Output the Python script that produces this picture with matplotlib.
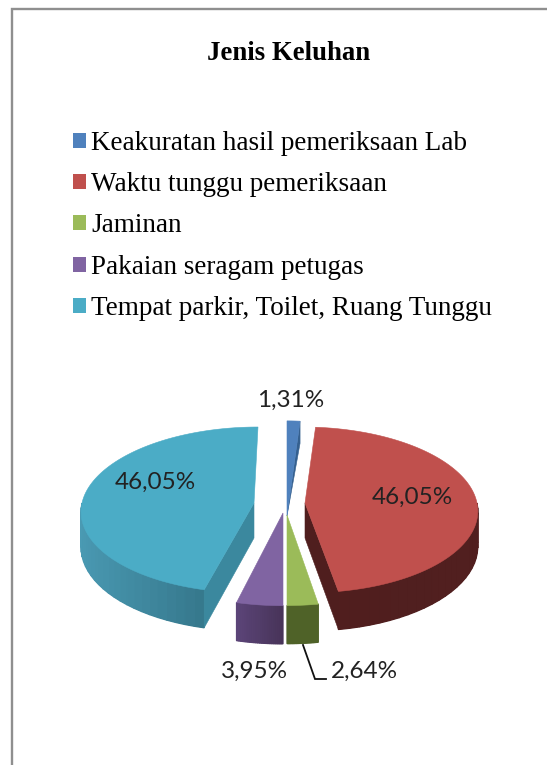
import numpy as np
import matplotlib
matplotlib.use("Agg")
import matplotlib.pyplot as plt
from matplotlib.patches import Patch, Polygon

title = "Jenis Keluhan"
categories = ["Keakuratan hasil pemeriksaan Lab", "Waktu tunggu pemeriksaan", "Jaminan",
              "Pakaian seragam petugas", "Tempat parkir, Toilet, Ruang Tunggu"]
values = [1.31, 46.05, 2.64, 3.95, 46.05]
value_labels = ["1,31%", "46,05%", "2,64%", "3,95%", "46,05%"]

# styling and projection settings (pixel space of the figure)
top_colors = ["#4f81bd", "#c0504d", "#9bbb59", "#8064a2", "#4bacc6"]
wall_left = ["#3a6494", "#511f1f", "#4f6228", "#5c4579", "#4a9ab3"]
wall_right = ["#3a6494", "#4f1e1e", "#4f6228", "#483459", "#2e6b7e"]
cut_color = ["#35608f", "#4f1e1e", "#4f6228", "#483459", "#3b889e"]
apex = [(287, 516), (305, 503), (287, 515), (283, 513), (254, 503)]
radius_x = [172, 172, 174, 174, 172]
radius_y = [103, 82.3, 83, 85, 82.3]
shear = [0, -2.5, 0, 0, 4]
depth = 35
persp = 0.083
cut_walls = {0: (0, 24), 1: (35, 35), 4: (35, 35)}  # slices showing a cut face: apex and rim depth
cut_at = {0: "end", 1: "end", 4: "start"}
label_xy = [(291, 400), (412, 497), (364, 671), (255, 671), (155.5, 482)]

fig = plt.figure(figsize=(5.47, 7.65), dpi=100, facecolor="white")
ax = fig.add_axes([0, 0, 1, 1])
ax.set_xlim(0, 547)
ax.set_ylim(765, 0)
ax.axis("off")


def project(i, t, r=1.0, z=0.0):
    u, v = r * np.sin(t), r * np.cos(t)
    s = 1.0 / (1.0 + persp * v)
    x = apex[i][0] + radius_x[i] * u * s + shear[i] * v
    y = apex[i][1] - radius_y[i] * v * s + z * s
    return x, y


def mix(c0, c1, f):
    a, b = np.array(matplotlib.colors.to_rgb(c0)), np.array(matplotlib.colors.to_rgb(c1))
    return tuple(a + (b - a) * f)


edges = np.concatenate([[0], np.cumsum(values)]) / np.sum(values) * 2 * np.pi
order = [0, 4, 1, 3, 2]
for i in order:
    t0, t1 = edges[i], edges[i + 1]
    # outer wall on the front half: solid underlay, then thin overlapping strips for the shading
    lo, hi = max(t0, np.pi / 2), min(t1, 3 * np.pi / 2)
    if hi > lo:
        ts = np.linspace(lo, hi, 25)
        base = [project(i, a) for a in ts] + [project(i, a, z=depth) for a in ts[::-1]]
        ax.add_patch(Polygon(base, closed=True, fc=wall_right[i], ec="none", zorder=2))
        for a, b in zip(ts[:-1], ts[1:]):
            if i == 3:
                f = 1 - (a - lo) / (hi - lo)
            elif i in (1, 4):
                f = np.clip(1 - abs(a - np.pi) / (np.pi / 2), 0, 1) ** 2
            else:
                f = (a - lo) / (hi - lo)
            c = mix(wall_left[i], wall_right[i], f)
            pts = [project(i, a), project(i, b), project(i, b, z=depth), project(i, a, z=depth)]
            ax.add_patch(Polygon(pts, closed=True, fc=c, ec=c, lw=0.9, zorder=2))
    # cut face
    if i in cut_walls:
        d0, d1 = cut_walls[i]
        t = t1 if cut_at[i] == "end" else t0
        pts = [project(i, t, 0), project(i, t), project(i, t, z=d1), project(i, t, 0, z=d0)]
        ax.add_patch(Polygon(pts, closed=True, fc=cut_color[i], ec=cut_color[i], lw=0.4, zorder=2))
    # top face
    ts = np.linspace(t0, t1, 120)
    rim = [project(i, a) for a in ts]
    ax.add_patch(Polygon([project(i, 0, 0)] + rim, closed=True, fc=top_colors[i],
                         ec=top_colors[i], lw=0.4, zorder=3))

for txt, (x, y) in zip(value_labels, label_xy):
    ax.text(x, y, txt, fontsize=17.5, family="Lato", color="#222222", ha="center", va="center", zorder=5)

# leader line for the small slice
ax.plot([303, 315, 326], [645, 679, 679], color="#111111", lw=1.3, zorder=4, solid_joinstyle="miter")

ax.text(289, 53, title, fontsize=19.3, family="Liberation Serif", weight="bold",
        color="black", ha="center", va="center")

handles = [Patch(fc=c, ec="none") for c in top_colors]
leg = ax.legend(handles, categories, loc="upper left", bbox_to_anchor=(73 / 547, 1 - 131 / 765),
                frameon=False, prop={"family": "Liberation Serif", "size": 19.5},
                handlelength=0.48, handleheight=0.48, handletextpad=0.2, labelspacing=0.6,
                borderpad=0, borderaxespad=0)

# outer chart frame, running off the image on the right and bottom
ax.plot([11.5, 11.5, 547], [765, 8.5, 8.5], color="#8f8f8f", lw=1.7, solid_joinstyle="miter", zorder=1)

fig.savefig("out.png", dpi=100)
